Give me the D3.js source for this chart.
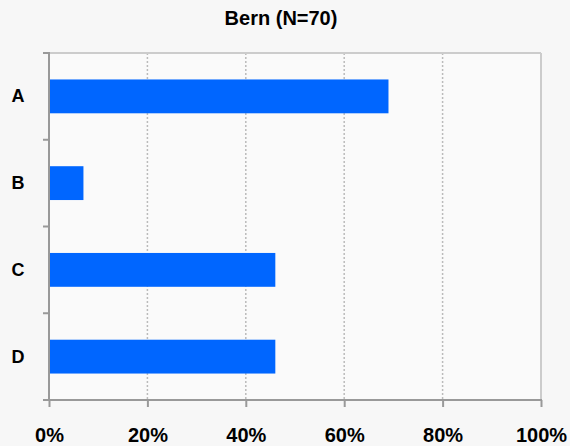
<!DOCTYPE html>
<html><head><meta charset="utf-8">
<script src="https://cdn.jsdelivr.net/npm/d3@7"></script>
<style>body{margin:0;background:#f7f7f7;}svg{display:block;}</style>
</head><body>
<svg id="c" width="570" height="446"></svg>
<script>
const title = "Bern (N=70)";
const categories = ["A", "B", "C", "D"];
const values = [69, 7, 46, 46];
const xTicks = [0, 20, 40, 60, 80, 100];

const svg = d3.select("#c");
const W = 570, H = 446;
const m = {left: 49, right: 29, top: 53, bottom: 46};
const iw = W - m.left - m.right, ih = H - m.top - m.bottom;

svg.append("rect").attr("width", W).attr("height", H).attr("fill", "#f7f7f7");
const g = svg.append("g").attr("transform", `translate(${m.left},${m.top})`);
g.append("rect").attr("width", iw).attr("height", ih).attr("fill", "#fafafa");

const x = d3.scaleLinear().domain([0, 100]).range([0, iw]);
const y = d3.scaleBand().domain(categories).range([0, ih]).paddingInner(0.61).paddingOuter(0.305);

// gridlines
g.selectAll("line.grid").data(xTicks.filter(t => t > 0 && t < 100)).enter().append("line")
  .attr("x1", d => x(d)).attr("x2", d => x(d)).attr("y1", 0).attr("y2", ih)
  .attr("stroke", "#bbb").attr("stroke-width", 1.5).attr("stroke-dasharray", "2,2");

// top & right border
g.append("line").attr("x1", 0).attr("x2", iw).attr("y1", 0).attr("y2", 0).attr("stroke", "#ccc").attr("stroke-width", 2);
g.append("line").attr("x1", iw).attr("x2", iw).attr("y1", 0).attr("y2", ih).attr("stroke", "#ccc").attr("stroke-width", 2);

// bars
g.selectAll("rect.bar").data(categories).enter().append("rect")
  .attr("x", 0).attr("y", d => y(d))
  .attr("width", (d, i) => x(values[i])).attr("height", y.bandwidth())
  .attr("fill", "#0066ff");

// left axis with ticks at band boundaries
const step = ih / categories.length;
const yBounds = d3.range(categories.length + 1).map(i => i * step);
g.selectAll("line.ytick").data(yBounds).enter().append("line")
  .attr("x1", -6).attr("x2", 0).attr("y1", d => d).attr("y2", d => d)
  .attr("stroke", "#999").attr("stroke-width", 2);
g.append("line").attr("x1", 0).attr("x2", 0).attr("y1", -1).attr("y2", ih + 1).attr("stroke", "#999").attr("stroke-width", 2);

g.selectAll("text.ylab").data(categories).enter().append("text")
  .attr("x", -31).attr("y", d => y(d) + y.bandwidth() / 2)
  .attr("text-anchor", "middle").attr("dominant-baseline", "central")
  .attr("font-family", "Liberation Sans, Arial, sans-serif").attr("font-weight", "bold").attr("font-size", 18)
  .attr("fill", "#000").text(d => d);

// bottom axis
const xAxis = d3.axisBottom(x).tickValues(xTicks).tickSize(7).tickFormat(d => d + "%");
const xa = g.append("g").attr("transform", `translate(0,${ih})`).call(xAxis);
xa.select(".domain").remove();
xa.selectAll(".tick line").attr("stroke", "#999").attr("stroke-width", 2);
xa.selectAll(".tick text").attr("font-family", "Liberation Sans, Arial, sans-serif")
  .attr("font-weight", "bold").attr("font-size", 20).attr("fill", "#000").attr("dy", "0").attr("y", 42);
g.append("line").attr("x1", -6).attr("x2", iw + 1).attr("y1", ih).attr("y2", ih).attr("stroke", "#999").attr("stroke-width", 2);

// title
svg.append("text").attr("x", 281).attr("y", 25).attr("text-anchor", "middle")
  .attr("font-family", "Liberation Sans, Arial, sans-serif").attr("font-weight", "bold").attr("font-size", 20)
  .attr("fill", "#000").text(title);
</script>
</body></html>
